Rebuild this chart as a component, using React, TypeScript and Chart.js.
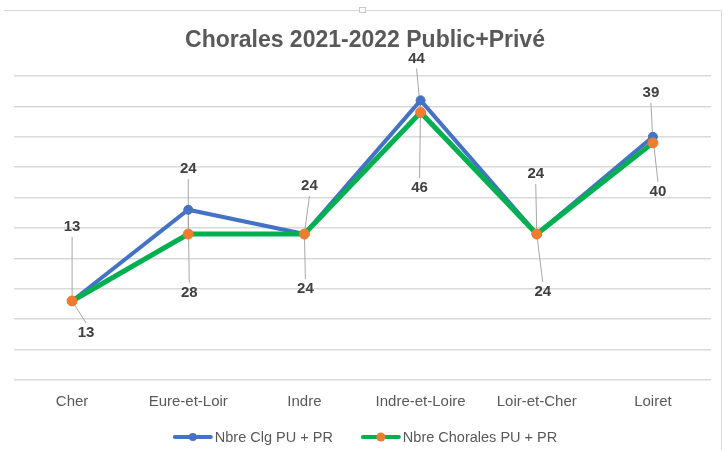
import React, { useEffect, useRef } from 'react';
import { Chart, registerables } from 'chart.js';

Chart.register(...registerables);

const TITLE = 'Chorales 2021-2022 Public+Privé';
const CATEGORIES = ['Cher', 'Eure-et-Loir', 'Indre', 'Indre-et-Loire', 'Loir-et-Cher', 'Loiret'];
const CLG_LABEL = 'Nbre Clg PU + PR';
const CLG_VALUES = [13, 28, 24, 46, 24, 40];
const CHORALES_LABEL = 'Nbre Chorales PU + PR';
const CHORALES_VALUES = [13, 24, 24, 44, 24, 39];
const Y_MIN = 0;
const Y_MAX = 50;
const Y_STEP = 5;

// data-label placement (pixel offsets from each point), as placed by hand in the original
const ABOVE_OFFSETS = [[0, -74], [0, -65], [5, -48], [-4, -54], [-1, -60], [-2, -50]];
const BELOW_OFFSETS = [[14, 32], [1, 83], [1, 55], [-1, 88], [6, 58], [5, 55]];

const FONT = "'Liberation Sans', Arial, sans-serif";
const BLUE = '#4472C4';
const GREEN = '#00B050';
const ORANGE = '#ED7D31';

const decorPlugin = {
  id: 'decor',
  beforeDatasetsDraw(chart: any) {
    const ctx = chart.ctx;
    ctx.save();
    ctx.strokeStyle = '#a6a6a6';
    ctx.lineWidth = 1;
    const sets: [number, number[][]][] = [[1, ABOVE_OFFSETS], [0, BELOW_OFFSETS]];
    sets.forEach(([di, offs]) => {
      const meta = chart.getDatasetMeta(di);
      meta.data.forEach((el: any, i: number) => {
        const [dx, dy] = offs[i];
        if (Math.abs(dy) < 22) return;
        const lx = el.x + dx;
        const ly = el.y + dy;
        const sy = dy < 0 ? ly + 10 : ly - 10;
        ctx.beginPath();
        ctx.moveTo(lx, sy);
        ctx.lineTo(el.x, el.y);
        ctx.stroke();
      });
    });
    ctx.restore();
  },
  afterDraw(chart: any) {
    const ctx = chart.ctx;
    ctx.save();
    // frame
    ctx.strokeStyle = '#d9d9d9';
    ctx.lineWidth = 1;
    ctx.beginPath();
    ctx.moveTo(4, 10.5);
    ctx.lineTo(721.5, 10.5);
    ctx.lineTo(721.5, 450);
    ctx.stroke();
    ctx.fillStyle = '#ffffff';
    ctx.fillRect(359, 7, 7, 6);
    ctx.strokeStyle = '#c8c8c8';
    ctx.strokeRect(359.5, 7.5, 6, 5);

    // data labels
    ctx.font = `bold 15px ${FONT}`;
    ctx.fillStyle = '#404040';
    ctx.textAlign = 'center';
    ctx.textBaseline = 'middle';
    const sets: [number, number[][]][] = [[1, ABOVE_OFFSETS], [0, BELOW_OFFSETS]];
    sets.forEach(([di, offs]) => {
      const meta = chart.getDatasetMeta(di);
      const vals = chart.data.datasets[di].data;
      meta.data.forEach((el: any, i: number) => {
        const [dx, dy] = offs[i];
        ctx.fillText(String(vals[i]), el.x + dx, el.y + dy);
      });
    });

    // title
    ctx.font = `bold 23px ${FONT}`;
    ctx.fillStyle = '#595959';
    ctx.fillText(TITLE, 365, 41);

    // legend
    ctx.font = `14.5px ${FONT}`;
    const items = [
      { text: CLG_LABEL, line: BLUE, marker: BLUE, r: 4 },
      { text: CHORALES_LABEL, line: GREEN, marker: ORANGE, r: 4.5 },
    ];
    const lineLen = 40;
    const gapText = 2;
    const gapItems = 28;
    const widths = items.map((it) => ctx.measureText(it.text).width);
    const total = widths.reduce((a, w) => a + lineLen + gapText + w, 0) + gapItems;
    let x = 365 - total / 2;
    const y = 437;
    ctx.textAlign = 'left';
    items.forEach((it, k) => {
      ctx.strokeStyle = it.line;
      ctx.lineWidth = 4;
      ctx.lineCap = 'round';
      ctx.beginPath();
      ctx.moveTo(x + 2, y);
      ctx.lineTo(x + lineLen - 2, y);
      ctx.stroke();
      ctx.fillStyle = it.marker;
      ctx.beginPath();
      ctx.arc(x + lineLen / 2, y, it.r, 0, Math.PI * 2);
      ctx.fill();
      ctx.fillStyle = '#595959';
      ctx.fillText(it.text, x + lineLen + gapText, y + 1);
      x += lineLen + gapText + widths[k] + gapItems;
    });
    ctx.restore();
  },
};

export default function App() {
  const ref = useRef<HTMLCanvasElement | null>(null);

  useEffect(() => {
    if (!ref.current) return;
    const chart = new Chart(ref.current, {
      type: 'line',
      data: {
        labels: CATEGORIES,
        datasets: [
          {
            label: CLG_LABEL,
            data: CLG_VALUES,
            borderColor: BLUE,
            backgroundColor: BLUE,
            borderWidth: 4,
            pointRadius: 4.5,
            pointBackgroundColor: BLUE,
            pointBorderColor: BLUE,
            pointBorderWidth: 1,
            tension: 0,
            order: 2,
          },
          {
            label: CHORALES_LABEL,
            data: CHORALES_VALUES,
            borderColor: GREEN,
            backgroundColor: ORANGE,
            borderWidth: 5,
            pointRadius: 5,
            pointBackgroundColor: ORANGE,
            pointBorderColor: ORANGE,
            pointBorderWidth: 1,
            tension: 0,
            order: 1,
          },
        ],
      },
      options: {
        responsive: false,
        animation: false,
        devicePixelRatio: 1,
        layout: { padding: { top: 76, left: 14, right: 13, bottom: 0 } },
        plugins: {
          legend: { display: false },
          title: { display: false },
          tooltip: { enabled: false },
        },
        scales: {
          x: {
            offset: true,
            grid: { display: false, drawTicks: false },
            border: { display: false },
            ticks: {
              color: '#595959',
              font: { family: FONT, size: 15 },
              padding: 13,
              maxRotation: 0,
              autoSkip: false,
            },
            afterFit: (scale: any) => {
              scale.height = 70;
            },
          },
          y: {
            min: Y_MIN,
            max: Y_MAX,
            ticks: { display: false, stepSize: Y_STEP },
            grid: { color: '#d9d9d9', lineWidth: 1.5, drawTicks: false },
            border: { display: false },
            afterFit: (scale: any) => {
              scale.width = 0;
            },
          },
        },
      },
      plugins: [decorPlugin],
    });
    return () => chart.destroy();
  }, []);

  return (
    <div style={{ position: 'absolute', left: 0, top: 0, width: 724, height: 450, background: '#fff' }}>
      <canvas ref={ref} width={724} height={450} />
    </div>
  );
}
